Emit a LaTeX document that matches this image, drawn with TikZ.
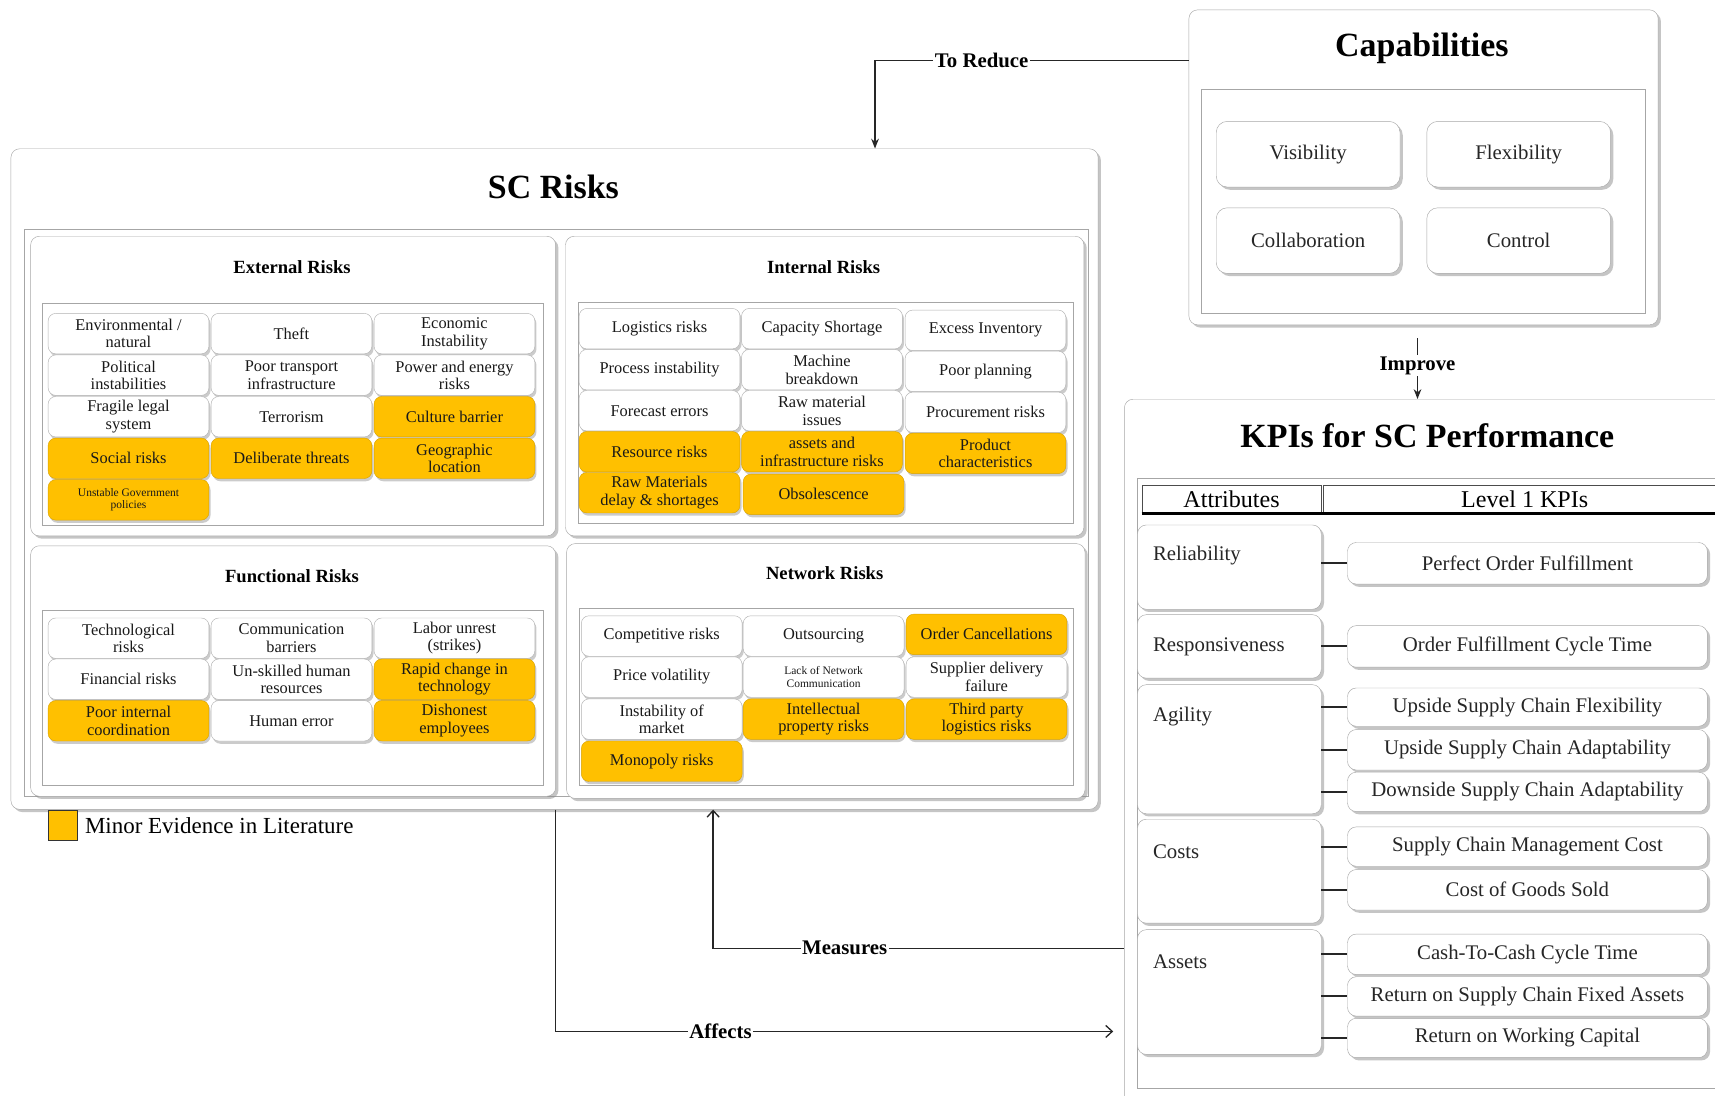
\documentclass[tikz,border=0pt]{standalone}
\usepackage{fontspec}
\setmainfont{Liberation Serif}
\usetikzlibrary{shadows,arrows.meta,calc}
\definecolor{gold}{HTML}{FFC000}
\definecolor{edge}{HTML}{A6A6A6}
\newcommand\fcell{\fontsize{15}{16}\selectfont}
\newcommand\fsmall{\fontsize{10.5}{11.5}\selectfont}
\newcommand\fmid{\fontsize{19}{22}\selectfont}
\newcommand\fsub{\bfseries\fontsize{17}{20}\selectfont}
\newcommand\fbig{\bfseries\fontsize{31}{36}\selectfont}
\newcommand\flab{\bfseries\fontsize{19}{22}\selectfont}
\newcommand\fhead{\fontsize{22}{26}\selectfont}
\newcommand\flegend{\fontsize{21}{24}\selectfont}

\begin{document}
\begin{tikzpicture}[x=1pt,y=-1pt,
  boxshadow/.style={drop shadow={shadow xshift=2.5pt,shadow yshift=-2.5pt,fill=black!45,opacity=.5}},
  panel/.style={draw=edge, fill=white, rounded corners=8pt, inner sep=0pt, boxshadow},
  rim/.style={draw=edge, inner sep=0pt},
  cell/.style={draw=black!30, fill=white, rounded corners=7pt, inner sep=1pt,
    minimum width=147pt, minimum height=37pt, align=center, font=\fcell, text=black!90,
    drop shadow={shadow xshift=1.5pt,shadow yshift=-2.5pt,fill=black!40,opacity=.5}},
  hot/.style={cell, fill=gold, draw=gold!85!black},
  capitem/.style={panel, rounded corners=10pt, minimum width=168pt, minimum height=60pt, font=\fmid, text=black!85},
  attr/.style={panel, minimum width=168pt},
  attrtext/.style={anchor=west, font=\fmid, text=black!85, inner sep=0pt},
  kpi/.style={panel, minimum width=329pt, font=\fmid, text=black!85},
  tie/.style={draw=black!85, line width=1.7pt},
  flow/.style={draw=black!85, line width=1.2pt},
  lbl/.style={fill=white, inner sep=1.5pt, font=\flab},
  subtitle/.style={font=\fsub},
  bigtitle/.style={font=\fbig}
]
\useasboundingbox (0,0) rectangle (1568,1002);
\fill[white] (0,0) rectangle (1568,1002);
\clip (0,0) rectangle (1568,1002);

% ---------------- SC risks ----------------
\node[panel, minimum width=994pt, minimum height=604pt] (risks) at (507,438) {};
\node[bigtitle] (riskstitle) at (506,171) {SC Risks};
\node[rim, minimum width=973pt, minimum height=518pt] (riskgrid) at (508.5,469) {};

\node[panel, minimum width=480pt, minimum height=274pt] (ext) at (268,353) {};
\node[panel, minimum width=474pt, minimum height=274pt] (int) at (754,353) {};
\node[panel, minimum width=480pt, minimum height=229pt] (fun) at (268,613.5) {};
\node[panel, minimum width=474pt, minimum height=233pt] (net) at (755,613.5) {};

\node[subtitle] (exttitle) at (267,244) {External Risks};
\node[subtitle] (inttitle) at (753,244) {Internal Risks};
\node[subtitle] (funtitle) at (267,527) {Functional Risks};
\node[subtitle] (nettitle) at (754,524) {Network Risks};

\node[rim, minimum width=458pt, minimum height=203pt] (extgrid) at (268,378.5) {};
\node[rim, minimum width=452pt, minimum height=202pt] (intgrid) at (755,377) {};
\node[rim, minimum width=458pt, minimum height=160pt] (fungrid) at (268,638) {};
\node[rim, minimum width=451pt, minimum height=162pt] (netgrid) at (755.5,637) {};

% external risks
\node[cell] (e11) at (117.5,305) {Environmental /\\natural};
\node[cell] (e12) at (266.5,305) {Theft};
\node[cell] (e13) at (415.5,305) {Economic\\Instability};
\node[cell] (e21) at (117.5,343) {Political\\instabilities};
\node[cell] (e22) at (266.5,343) {Poor transport\\infrastructure};
\node[cell] (e23) at (415.5,343) {Power and energy\\risks};
\node[cell] (e31) at (117.5,381) {Fragile legal\\system};
\node[cell] (e32) at (266.5,381) {Terrorism};
\node[hot]  (e33) at (415.5,381) {Culture barrier};
\node[hot]  (e41) at (117.5,419) {Social risks};
\node[hot]  (e42) at (266.5,419) {Deliberate threats};
\node[hot]  (e43) at (415.5,419) {Geographic\\location};
\node[hot, font=\fsmall] (e51) at (117.5,457) {Unstable Government\\policies};

% internal risks
\node[cell] (i11) at (603,300.5) {Logistics risks};
\node[cell] (i12) at (751.5,300.5) {Capacity Shortage};
\node[cell] (i13) at (901,302) {Excess Inventory};
\node[cell] (i21) at (603,338) {Process instability};
\node[cell] (i22) at (751.5,338) {Machine\\breakdown};
\node[cell] (i23) at (901,339.5) {Poor planning};
\node[cell] (i31) at (603,375.5) {Forecast errors};
\node[cell] (i32) at (751.5,375.5) {Raw material\\issues};
\node[cell] (i33) at (901,377) {Procurement risks};
\node[hot]  (i41) at (603,413) {Resource risks};
\node[hot]  (i42) at (751.5,413) {assets and\\infrastructure risks};
\node[hot]  (i43) at (901,414.5) {Product\\characteristics};
\node[hot]  (i51) at (603,450.5) {Raw Materials\\delay \& shortages};
\node[hot]  (i52) at (753,452) {Obsolescence};

% functional risks
\node[cell] (f11) at (117.5,583.5) {Technological\\risks};
\node[cell] (f12) at (266.5,583.5) {Communication\\barriers};
\node[cell] (f13) at (415.5,583.5) {Labor unrest\\(strikes)};
\node[cell] (f21) at (117.5,621) {Financial risks};
\node[cell] (f22) at (266.5,621) {Un-skilled human\\resources};
\node[hot]  (f23) at (415.5,621) {Rapid change in\\technology};
\node[hot]  (f31) at (117.5,659) {Poor internal\\coordination};
\node[cell] (f32) at (266.5,659) {Human error};
\node[hot]  (f33) at (415.5,659) {Dishonest\\employees};

% network risks
\node[cell] (n11) at (605,581.5) {Competitive risks};
\node[cell] (n12) at (753,581.5) {Outsourcing};
\node[hot]  (n13) at (902,580) {Order Cancellations};
\node[cell] (n21) at (605,619) {Price volatility};
\node[cell, font=\fsmall] (n22) at (753,619) {Lack of Network\\Communication};
\node[cell] (n23) at (902,619) {Supplier delivery\\failure};
\node[cell] (n31) at (605,657.5) {Instability of\\market};
\node[hot]  (n32) at (753,657.5) {Intellectual\\property risks};
\node[hot]  (n33) at (902,657.5) {Third party\\logistics risks};
\node[hot]  (n41) at (605,696) {Monopoly risks};

% legend
\node[draw=black!80, fill=gold, minimum size=27pt, inner sep=0pt] (key) at (57.5,754.5) {};
\node[font=\flegend, anchor=west, xshift=3pt] (keytext) at (key.east) {Minor Evidence in Literature};

% ---------------- capabilities ----------------
\node[panel, minimum width=429pt, minimum height=288pt] (caps) at (1301.5,153) {};
\node[bigtitle] (capstitle) at (1300,44) {Capabilities};
\node[rim, minimum width=406pt, minimum height=204pt] (capsgrid) at (1301,184) {};
\node[capitem] (vis) at (1196,141) {Visibility};
\node[capitem] (flex) at (1388.5,141) {Flexibility};
\node[capitem] (coll) at (1196,220) {Collaboration};
\node[capitem] (ctrl) at (1388.5,220) {Control};

% ---------------- KPIs ----------------
\node[panel, minimum width=600pt, minimum height=700pt] (kpis) at (1328,715) {};
\node[bigtitle] (kpititle) at (1305,398) {KPIs for SC Performance};
\node[rim, minimum width=590pt, minimum height=558pt] (kpigrid) at (1335,716) {};

\node[draw=black!70, minimum width=164pt, minimum height=25pt, inner sep=0pt] (hattr) at (1126,456.5) {};
\node[draw=black!70, minimum width=420pt, minimum height=25pt, inner sep=0pt] (hkpi) at (1420,456.5) {};
\node[font=\fhead] (hattrtext) at (1126,456.5) {Attributes};
\node[font=\fhead] (hkpitext) at (1394,456.5) {Level 1 KPIs};
\draw[line width=2.5pt] (hattr.south west) -- (hkpi.south east);

\node[attr, minimum height=77pt]  (rel)  at (1124,518.5) {};
\node[attr, minimum height=58pt]  (resp) at (1124,591) {};
\node[attr, minimum height=118pt] (agil) at (1124,685) {};
\node[attr, minimum height=95pt]  (cost) at (1124,796.5) {};
\node[attr, minimum height=114pt] (asset) at (1124,907) {};
\node[attrtext] (reltext)   at (1054,508) {Reliability};
\node[attrtext] (resptext)  at (1054,591) {Responsiveness};
\node[attrtext] (agiltext)  at (1054,655) {Agility};
\node[attrtext] (costtext)  at (1054,779) {Costs};
\node[attrtext] (assettext) at (1054,879) {Assets};

\node[kpi, minimum height=38pt] (k1)  at (1396.5,515)   {Perfect Order Fulfillment};
\node[kpi, minimum height=38pt] (k2)  at (1396.5,591)   {Order Fulfillment Cycle Time};
\node[kpi, minimum height=35pt] (k3)  at (1396.5,646.5) {Upside Supply Chain Flexibility};
\node[kpi, minimum height=37pt] (k4)  at (1396.5,685.5) {Upside Supply Chain Adaptability};
\node[kpi, minimum height=36pt] (k5)  at (1396.5,724)   {Downside Supply Chain Adaptability};
\node[kpi, minimum height=36pt] (k6)  at (1396.5,774)   {Supply Chain Management Cost};
\node[kpi, minimum height=37pt] (k7)  at (1396.5,813.5) {Cost of Goods Sold};
\node[kpi, minimum height=37pt] (k8)  at (1396.5,872.5) {Cash-To-Cash Cycle Time};
\node[kpi, minimum height=36pt] (k9)  at (1396.5,911)   {Return on Supply Chain Fixed Assets};
\node[kpi, minimum height=36pt] (k10) at (1396.5,949)   {Return on Working Capital};

\draw[tie] (rel.east |- k1.west) -- (k1.west);
\draw[tie] (resp.east |- k2.west) -- (k2.west);
\draw[tie] (agil.east |- k3.west) -- (k3.west);
\draw[tie] (agil.east |- k4.west) -- (k4.west);
\draw[tie] (agil.east |- k5.west) -- (k5.west);
\draw[tie] (cost.east |- k6.west) -- (k6.west);
\draw[tie] (cost.east |- k7.west) -- (k7.west);
\draw[tie] (asset.east |- k8.west) -- (k8.west);
\draw[tie] (asset.east |- k9.west) -- (k9.west);
\draw[tie] (asset.east |- k10.west) -- (k10.west);

% ---------------- relations ----------------
\coordinate (redturn) at (800,55);
\draw[flow, -{Stealth[length=9pt,width=7pt]}] (caps.west |- redturn) -- node[lbl, pos=0.66] (reduce) {To Reduce} (redturn) -- (redturn |- risks.north);

\coordinate (impx) at (1296,0);
\draw[flow, -{Stealth[length=9pt,width=7pt]}, shorten <=12pt] (caps.south -| impx) -- node[lbl, pos=0.55] (improve) {Improve} (kpis.north -| impx);

\coordinate (measturn) at (652,867);
\draw[flow, -{Straight Barb[length=6pt,width=11pt]}] (kpis.west |- measturn) -- node[lbl, pos=0.68] (measures) {Measures} (measturn) -- (measturn |- risks.south);

\coordinate (affturn) at (508,943);
\draw[flow, -{Straight Barb[length=6pt,width=11pt]}, shorten >=10pt] (risks.south -| affturn) -- (affturn) -- node[lbl, pos=0.29] (affects) {Affects} (kpis.west |- affturn);
\end{tikzpicture}
\end{document}
